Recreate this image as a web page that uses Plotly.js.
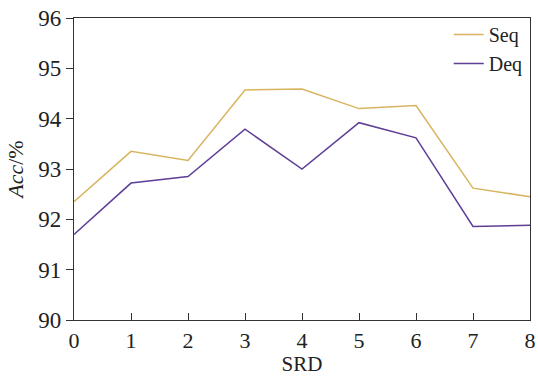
<!DOCTYPE html>
<html><head><meta charset="utf-8">
<script src="https://cdn.plot.ly/plotly-3.0.1.min.js"></script>
<style>body{margin:0;background:#fff}#c{width:538px;height:376px}</style>
</head><body><div id="c"></div>
<script>
const srd = [0, 1, 2, 3, 4, 5, 6, 7, 8];
const seq = [92.35, 93.35, 93.17, 94.57, 94.59, 94.2, 94.26, 92.62, 92.45];
const deq = [91.7, 92.72, 92.85, 93.79, 93.0, 93.92, 93.62, 91.86, 91.88];
const yTicks = [90, 91, 92, 93, 94, 95, 96];
const xTicks = [0, 1, 2, 3, 4, 5, 6, 7, 8];
const font = "Liberation Serif, Times New Roman, serif";
const data = [
  {x: srd, y: seq, name: 'Seq', mode: 'lines', line: {color: '#d8b45e', width: 1.5}},
  {x: srd, y: deq, name: 'Deq', mode: 'lines', line: {color: '#5f3f96', width: 1.5}}
];
const layout = {
  width: 538, height: 376,
  margin: {l: 74, r: 8, t: 18, b: 56},
  paper_bgcolor: '#fff', plot_bgcolor: '#fff',
  font: {family: font, color: '#222', size: 22},
  showlegend: true,
  legend: {x: 0.995, y: 1.01, xanchor: 'right', yanchor: 'top', bgcolor: 'rgba(0,0,0,0)',
    font: {size: 20, family: font}, tracegroupgap: 0},
  xaxis: {range: [0, 8], tickvals: xTicks, ticktext: xTicks.map(String),
    showgrid: false, zeroline: false, showline: true, linecolor: '#333', linewidth: 1.2,
    mirror: true, ticks: 'inside', ticklen: 7, tickcolor: '#333',
    tickfont: {size: 22, family: font},
    title: {text: 'SRD', font: {size: 21, family: font}, standoff: 6}},
  yaxis: {range: [90, 96], tickvals: yTicks, ticktext: yTicks.map(String),
    showgrid: false, zeroline: false, showline: true, linecolor: '#333', linewidth: 1.2,
    mirror: true, ticks: 'outside', ticklen: 7, tickcolor: '#333',
    tickfont: {size: 23, family: font},
    title: {text: '<i>Acc</i>/%', font: {size: 22, family: font}, standoff: 8}}
};
Plotly.newPlot('c', data, layout, {displayModeBar: false, staticPlot: true});
</script></body></html>
